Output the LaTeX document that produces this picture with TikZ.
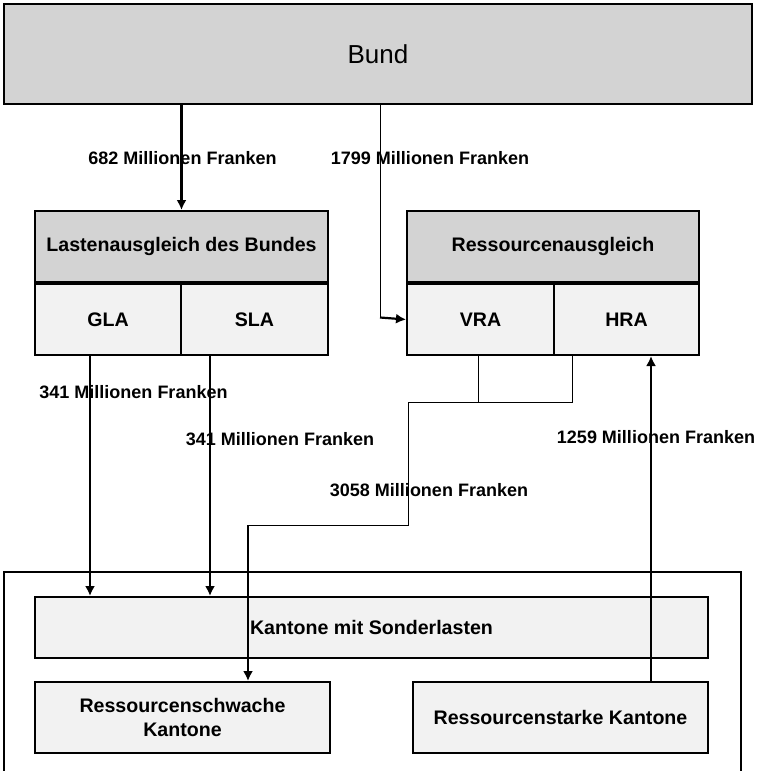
\documentclass[tikz,border=0pt]{standalone}
\usepackage{fontspec}
\setmainfont{Liberation Sans}
\usetikzlibrary{positioning,arrows.meta}
\definecolor{headgray}{HTML}{D3D3D3}
\definecolor{cellgray}{HTML}{F2F2F2}
\tikzset{
    box/.style={draw, line width=1pt, rectangle, inner sep=0pt, align=center,
        font=\fontsize{9.8}{12}\selectfont\bfseries},
    headbox/.style={box, fill=headgray},
    cellbox/.style={box, fill=cellgray},
    amount/.style={font=\fontsize{9}{11}\selectfont\bfseries, inner sep=0pt}
}

\begin{document}
\begin{tikzpicture}[
    x=0.5pt, y=-0.5pt,
    arrow/.style={-{Latex[length=5pt,width=5pt]}, line width=1.1pt},
    link/.style={line width=0.5pt},
]
\clip (0,0) rectangle (757,771);

% ===============================
%          Bund (top)
% ===============================

\node[headbox, font=\fontsize{13}{15}\selectfont, minimum width=374pt, minimum height=50pt]
    (bund) at (378,54) {Bund};

% ===============================
%        Ausgleichsgefaesse
% ===============================

\node[headbox, minimum width=146.5pt, minimum height=35.5pt] (lasthead) at (181.5,246.5)
    {Lastenausgleich des Bundes};
\node[cellbox, minimum width=73pt, minimum height=35.5pt, anchor=north west] (gla)
    at (lasthead.south west) {GLA};
\node[cellbox, minimum width=73.5pt, minimum height=35.5pt, anchor=north east] (sla)
    at (lasthead.south east) {SLA};

\node[headbox, minimum width=146pt, minimum height=35.5pt] (resshead) at (553,246.5)
    {Ressourcenausgleich};
\node[cellbox, minimum width=73.5pt, minimum height=35.5pt, anchor=north west] (vra)
    at (resshead.south west) {VRA};
\node[cellbox, minimum width=72.5pt, minimum height=35.5pt, anchor=north east] (hra)
    at (resshead.south east) {HRA};

% ===============================
%          Kantone (bottom)
% ===============================

\node[box, minimum width=368.5pt, minimum height=114pt] (kantone) at (372.5,686) {};

\node[cellbox, minimum width=336.5pt, minimum height=30.5pt] (sonder) at (371.5,627.5)
    {Kantone mit Sonderlasten};
\node[cellbox, minimum width=147.5pt, minimum height=35.5pt] (schwach) at (182.5,717.5)
    {Ressourcenschwache\\Kantone};
\node[cellbox, minimum width=147.5pt, minimum height=35.5pt] (stark) at (560.5,717.5)
    {Ressourcenstarke Kantone};

% ===============================
%              arrows
% ===============================

\draw[arrow] (bund.south -| lasthead.north) -- (lasthead.north);

\coordinate (turn) at (380,317.5);
\draw[link] (bund.south -| turn) -- (turn);
\draw[arrow] (turn) -- (vra.west);

\draw[arrow] ([xshift=-9pt]gla.south) coordinate (glaout) -- (glaout |- sonder.north);
\draw[arrow] ([xshift=-22.25pt]sla.south) coordinate (slaout) -- (slaout |- sonder.north);

\coordinate (join) at (408,402);
\coordinate (drop) at (408,525);
\draw[link] ([xshift=-1.25pt]vra.south) coordinate (vraout) -- (vraout |- join);
\draw[link] ([xshift=-27.25pt]hra.south) coordinate (hraout) -- (hraout |- join)
    -- (join) -- (drop) -- ([xshift=32.75pt]schwach.north |- drop) coordinate (bend);
\draw[arrow] (bend) -- ([xshift=32.75pt]schwach.north);

\draw[arrow] ([xshift=45.25pt]stark.north) coordinate (starkout) -- (starkout |- hra.south);

% ===============================
%              labels
% ===============================

\node[amount] (l682) at (182.5,158) {682 Millionen Franken};
\node[amount] (l1799) at (430,158) {1799 Millionen Franken};
\node[amount] (l341a) at (133.5,392) {341 Millionen Franken};
\node[amount] (l341b) at (280,439) {341 Millionen Franken};
\node[amount] (l3058) at (429,490) {3058 Millionen Franken};
\node[amount] (l1259) at (656,437) {1259 Millionen Franken};

\end{tikzpicture}
\end{document}
